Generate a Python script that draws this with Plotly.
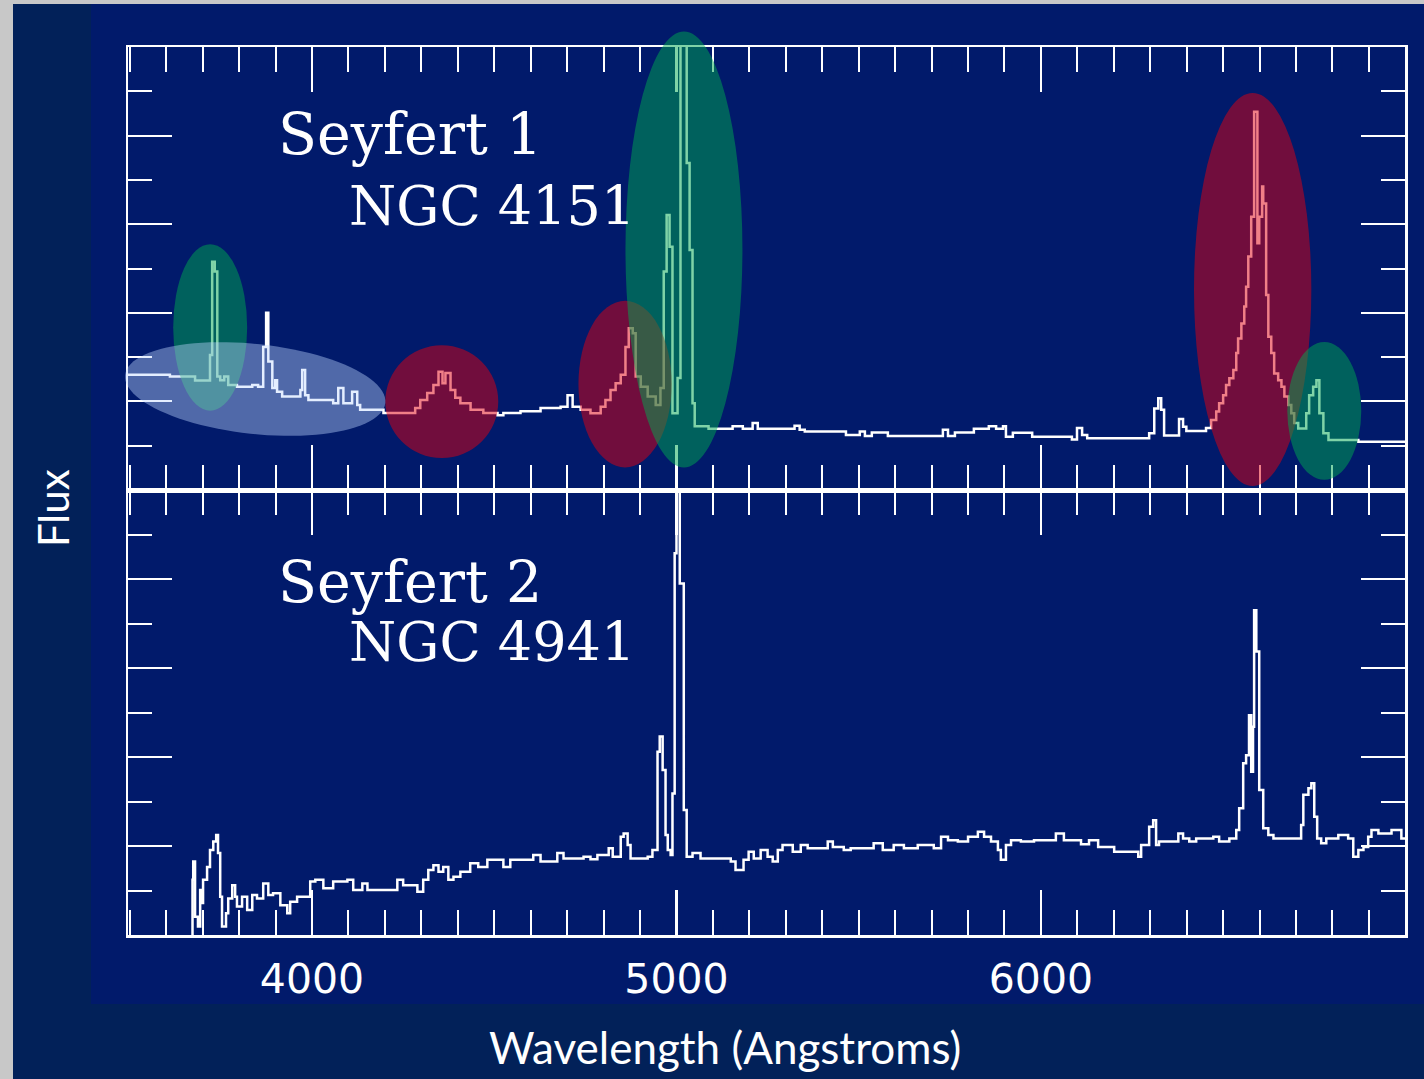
import numpy as np
import plotly.graph_objects as go

# ---------------- data ----------------
# Seyfert 1, NGC 4151 : wavelength (Angstrom) at the start of each step, flux (arbitrary units)
seyfert1_wavelength = [
    3495, 3610, 3679, 3720, 3726, 3733, 3740, 3748, 3759, 3770,
    3794, 3836, 3852, 3866, 3874, 3880, 3891, 3899, 3904, 3918,
    3968, 3973, 3981, 3990, 4058, 4072, 4086, 4110, 4124, 4132,
    4196, 4283, 4297, 4316, 4333, 4347, 4358, 4366, 4380, 4393,
    4407, 4435, 4470, 4509, 4525, 4572, 4627, 4682, 4701, 4715,
    4737, 4764, 4792, 4805, 4819, 4833, 4847, 4860, 4869, 4880,
    4888, 4902, 4921, 4943, 4956, 4965, 4973, 4981, 4989, 5003,
    5011, 5028, 5036, 5044, 5050, 5088, 5154, 5182, 5209, 5223,
    5324, 5338, 5352, 5465, 5503, 5517, 5536, 5580, 5731, 5745,
    5764, 5816, 5857, 5877, 5896, 5904, 5923, 5976, 6085, 6099,
    6113, 6127, 6297, 6311, 6322, 6330, 6338, 6379, 6390, 6399,
    6453, 6467, 6481, 6489, 6500, 6508, 6517, 6528, 6536, 6541,
    6550, 6558, 6563, 6569, 6577, 6585, 6594, 6599, 6607, 6610,
    6618, 6624, 6632, 6640, 6651, 6660, 6668, 6679, 6687, 6695,
    6706, 6728, 6736, 6747, 6756, 6764, 6775, 6789, 6871, 6999,
]
seyfert1_flux = [
    2.60, 2.56, 2.47, 3.05, 5.15, 4.93, 2.56, 2.48, 2.56, 2.37,
    2.33, 2.37, 2.33, 3.23, 4.00, 2.90, 2.30, 2.48, 2.22, 2.11,
    2.26, 2.71, 2.14, 2.03, 1.96, 2.30, 1.96, 2.22, 1.92, 1.81,
    1.74, 1.85, 2.03, 2.19, 2.37, 2.67, 2.41, 2.64, 2.26, 2.08,
    1.96, 1.81, 1.74, 1.69, 1.74, 1.78, 1.85, 1.88, 2.14, 1.88,
    1.81, 1.73, 1.88, 2.03, 2.26, 2.41, 2.60, 3.23, 3.65, 3.54,
    2.56, 2.33, 2.11, 1.92, 2.30, 4.93, 6.21, 5.49, 1.73, 2.53,
    14.0, 7.38, 5.42, 1.96, 1.44, 1.38, 1.44, 1.38, 1.51, 1.38,
    1.45, 1.36, 1.32, 1.24, 1.32, 1.22, 1.30, 1.22, 1.36, 1.22,
    1.30, 1.38, 1.44, 1.38, 1.44, 1.20, 1.29, 1.20, 1.14, 1.40,
    1.24, 1.17, 1.28, 1.84, 2.07, 1.81, 1.23, 1.60, 1.43, 1.33,
    1.40, 1.58, 1.77, 1.96, 2.14, 2.37, 2.52, 2.71, 3.09, 3.42,
    3.76, 4.14, 4.59, 5.27, 6.17, 8.54, 5.57, 6.17, 6.85, 6.47,
    4.40, 3.46, 3.09, 2.63, 2.48, 2.33, 2.11, 1.92, 1.73, 1.51,
    1.39, 1.73, 2.14, 2.33, 2.48, 1.73, 1.28, 1.13, 1.09, 1.09,
]

# Seyfert 2, NGC 4941
seyfert2_wavelength = [
    3671, 3672, 3674, 3679, 3687, 3693, 3698, 3701, 3712, 3720,
    3729, 3737, 3742, 3748, 3753, 3764, 3770, 3781, 3789, 3794,
    3808, 3822, 3836, 3849, 3866, 3880, 3893, 3913, 3932, 3940,
    3959, 3995, 4009, 4031, 4058, 4097, 4113, 4138, 4152, 4234,
    4250, 4289, 4305, 4319, 4333, 4347, 4360, 4374, 4388, 4407,
    4434, 4456, 4481, 4525, 4544, 4607, 4627, 4673, 4690, 4745,
    4764, 4783, 4814, 4825, 4847, 4855, 4866, 4874, 4921, 4934,
    4948, 4954, 4962, 4970, 4976, 4984, 4989, 4995, 5000, 5009,
    5020, 5028, 5044, 5066, 5149, 5162, 5184, 5198, 5212, 5231,
    5250, 5264, 5278, 5291, 5319, 5341, 5360, 5415, 5429, 5459,
    5478, 5541, 5566, 5596, 5624, 5662, 5706, 5726, 5745, 5772,
    5800, 5827, 5844, 5863, 5882, 5890, 5904, 5918, 5945, 5981,
    6041, 6063, 6110, 6132, 6157, 6201, 6267, 6275, 6297,
    6308, 6316, 6324, 6377, 6390, 6407, 6426, 6473, 6489, 6517,
    6536, 6544, 6555, 6563, 6571, 6577, 6582, 6585, 6591, 6599,
    6610, 6624, 6638, 6714, 6720, 6734, 6742, 6750, 6758, 6769,
    6783, 6816, 6843, 6857, 6871, 6885, 6898, 6907, 6926, 6962,
    6989, 6999,
]
seyfert2_flux = [
    -0.5, 1.24, 1.65, 0.41, 0.19, 1.01, 0.72, 1.24, 1.53, 1.91,
    2.10, 2.25, 1.84, 0.86, 0.19, 0.49, 0.82, 1.12, 0.86, 0.64,
    0.86, 0.56, 0.90, 0.82, 1.16, 0.90, 0.94, 0.67, 0.49, 0.75,
    0.86, 1.20, 1.24, 1.05, 1.20, 1.24, 1.01, 1.16, 1.01, 1.24,
    1.12, 0.97, 1.24, 1.46, 1.57, 1.42, 1.53, 1.24, 1.31, 1.42,
    1.61, 1.53, 1.69, 1.53, 1.69, 1.80, 1.65, 1.84, 1.72, 1.76,
    1.70, 1.80, 1.95, 1.76, 2.21, 2.28, 2.02, 1.72, 1.76, 1.91,
    4.12, 4.46, 3.71, 2.25, 1.91, 1.80, 3.18, 8.58, 14.0, 7.90,
    2.81, 1.76, 1.84, 1.72, 1.65, 1.46, 1.69, 1.87, 1.72, 1.91,
    1.76, 1.65, 1.91, 2.02, 1.87, 2.02, 1.95, 2.10, 1.98, 1.91,
    1.95, 2.06, 1.91, 2.02, 1.95, 2.02, 1.95, 2.21, 2.13, 2.10,
    2.21, 2.32, 2.21, 2.10, 1.91, 1.69, 2.02, 2.13, 2.10, 2.13,
    2.28, 2.13, 2.04, 2.13, 1.98, 1.87, 1.76, 2.02, 2.43,
    2.58, 2.02, 2.10, 2.28, 2.17, 2.10, 2.17, 2.21, 2.10, 2.17,
    2.36, 2.85, 3.86, 4.04, 4.94, 3.67, 4.68, 7.30, 6.37, 3.26,
    2.40, 2.25, 2.17, 2.47, 3.15, 3.30, 3.41, 2.66, 2.17, 2.06,
    2.17, 2.25, 2.17, 1.76, 1.91, 1.98, 2.21, 2.36, 2.28, 2.36,
    2.17, 2.17,
]

tick_values = [4000, 5000, 6000]
tick_labels = ["4000", "5000", "6000"]

panel_labels_top = ["Seyfert 1", "NGC 4151"]
panel_labels_bottom = ["Seyfert 2", "NGC 4941"]

# highlighted emission-line regions on the Seyfert 1 spectrum: (lambda0, lambda1, flux0, flux1, kind)
highlight_regions = [
    (3619, 3822, 1.79, 5.55, "green"),
    (4201, 4511, 0.72, 3.27, "red"),
    (4731, 4987, 0.51, 4.27, "red"),
    (4860, 5181, 0.51, 10.35, "green"),
    (6420, 6742, 0.09, 8.96, "red"),
    (6676, 6879, 0.23, 3.34, "green"),
]
# tilted ellipse around the blue continuum: centre and two semi-axis vectors (lambda, flux)
continuum_ellipse = dict(center=(3844, 2.28), a=(357.0, -0.316), b=(-13.2, -1.009))

# ---------------- styling ----------------
X_RANGE = [3495, 6999]
Y_RANGE = [0, 10]
BG_OUTER = "#022159"
BG_INNER = "#011a6b"
GRAY = "#c8c8c8"
FILL = {
    "green": "rgba(0,168,80,0.5)",
    "red": "rgba(225,0,15,0.5)",
    "light": "rgba(190,215,255,0.42)",
}
W, H = 1424, 1079
L, R, T, B = 128, 19, 47, 144
PW, PH = W - L - R, H - T - B
split = 445 / PH


def px_x(px):
    return (px - L) / PW


def px_y(py):
    return (H - B - py) / PH


def dx(lam):
    return (lam - X_RANGE[0]) / (X_RANGE[1] - X_RANGE[0])


def dy(f):
    return (f - Y_RANGE[0]) / (Y_RANGE[1] - Y_RANGE[0])


fig = go.Figure()
line_style = dict(color="white", width=2.5, shape="hv")
fig.add_trace(go.Scatter(x=seyfert1_wavelength, y=seyfert1_flux, xaxis="x2", yaxis="y2",
                         mode="lines", line=line_style, hoverinfo="skip", showlegend=False))
fig.add_trace(go.Scatter(x=seyfert2_wavelength, y=seyfert2_flux, xaxis="x", yaxis="y",
                         mode="lines", line=line_style, hoverinfo="skip", showlegend=False))

minor_x = dict(ticks="inside", ticklen=25, tickwidth=2, tickcolor="white",
               tickmode="linear", tick0=3500, dtick=100)
xcommon = dict(range=X_RANGE, showline=True, linecolor="white", linewidth=2.5, mirror="ticks",
               ticks="inside", ticklen=45, tickwidth=2.5, tickcolor="white",
               tickmode="array", tickvals=tick_values, ticktext=tick_labels,
               minor=minor_x, showgrid=False, zeroline=False, fixedrange=True)
minor_y = dict(ticks="inside", ticklen=24, tickwidth=2, tickcolor="white",
               tickmode="linear", tick0=0, dtick=1)
ycommon = dict(range=Y_RANGE, showline=True, linecolor="white", linewidth=2.5, mirror="ticks",
               ticks="inside", ticklen=44, tickwidth=2, tickcolor="white",
               tickmode="linear", tick0=0, dtick=2, minor=minor_y,
               showticklabels=False, showgrid=False, zeroline=False, fixedrange=True)

shapes = [
    dict(type="rect", xref="paper", yref="paper", x0=px_x(91), x1=px_x(W + 2), y0=px_y(1004), y1=px_y(4),
         fillcolor=BG_INNER, line=dict(width=0), layer="below"),
    dict(type="rect", xref="paper", yref="paper", x0=px_x(-2), x1=px_x(13), y0=px_y(H + 2), y1=px_y(-2),
         fillcolor=GRAY, line=dict(width=0), layer="below"),
    dict(type="rect", xref="paper", yref="paper", x0=px_x(-2), x1=px_x(W + 2), y0=px_y(4), y1=px_y(-2),
         fillcolor=GRAY, line=dict(width=0), layer="below"),
]
for l0, l1, f0, f1, kind in highlight_regions:
    shapes.append(dict(type="circle", xref="x2 domain", yref="y2 domain",
                       x0=dx(l0), x1=dx(l1), y0=dy(f0), y1=dy(f1),
                       fillcolor=FILL[kind], line=dict(width=0), layer="above"))
t = np.linspace(0, 2 * np.pi, 97)
cl, cf = continuum_ellipse["center"]
al, af = continuum_ellipse["a"]
bl, bf = continuum_ellipse["b"]
lam_e = cl + np.cos(t) * al + np.sin(t) * bl
f_e = cf + np.cos(t) * af + np.sin(t) * bf
path = "M " + " L ".join(f"{dx(a):.5f},{dy(b):.5f}" for a, b in zip(lam_e, f_e)) + " Z"
shapes.append(dict(type="path", xref="x2 domain", yref="y2 domain", path=path,
                   fillcolor=FILL["light"], line=dict(width=0), layer="above"))

font_big = dict(family="DejaVu Serif", size=57, color="white")
font_name = dict(family="DejaVu Serif", size=54, color="white")
annotations = [
    dict(text=panel_labels_top[0], x=px_x(276), y=px_y(134), font=font_big),
    dict(text=panel_labels_top[1], x=px_x(347), y=px_y(206), font=font_name),
    dict(text=panel_labels_bottom[0], x=px_x(276), y=px_y(582), font=font_big),
    dict(text=panel_labels_bottom[1], x=px_x(347), y=px_y(642), font=font_name),
]
for a in annotations:
    a.update(xref="paper", yref="paper", xanchor="left", yanchor="middle", showarrow=False)
annotations += [
    dict(text="Wavelength (Angstroms)", x=px_x(725), y=px_y(1047), xref="paper", yref="paper",
         xanchor="center", yanchor="middle", showarrow=False,
         font=dict(family="Lato", size=44, color="white")),
    dict(text="Flux", x=px_x(53), y=px_y(508), xref="paper", yref="paper", textangle=-90,
         xanchor="center", yanchor="middle", showarrow=False,
         font=dict(family="Lato", size=42, color="white")),
]

fig.update_layout(
    width=W, height=H, autosize=False,
    margin=dict(l=L, r=R, t=T, b=B, pad=0),
    paper_bgcolor=BG_OUTER, plot_bgcolor=BG_INNER,
    xaxis=dict(**xcommon, anchor="y", domain=[0, 1], showticklabels=True,
               tickfont=dict(family="DejaVu Sans", size=41, color="white"), ticklabelstandoff=6),
    xaxis2=dict(**xcommon, anchor="y2", domain=[0, 1], matches="x", showticklabels=False),
    yaxis=dict(**ycommon, anchor="x", domain=[0, split]),
    yaxis2=dict(**ycommon, anchor="x2", domain=[split, 1]),
    shapes=shapes,
    annotations=annotations,
    showlegend=False,
)

fig.write_html(
    "out.html",
    config=dict(displayModeBar=False, staticPlot=True),
    post_script="document.body.style.margin='0';document.body.style.overflow='hidden';",
)
